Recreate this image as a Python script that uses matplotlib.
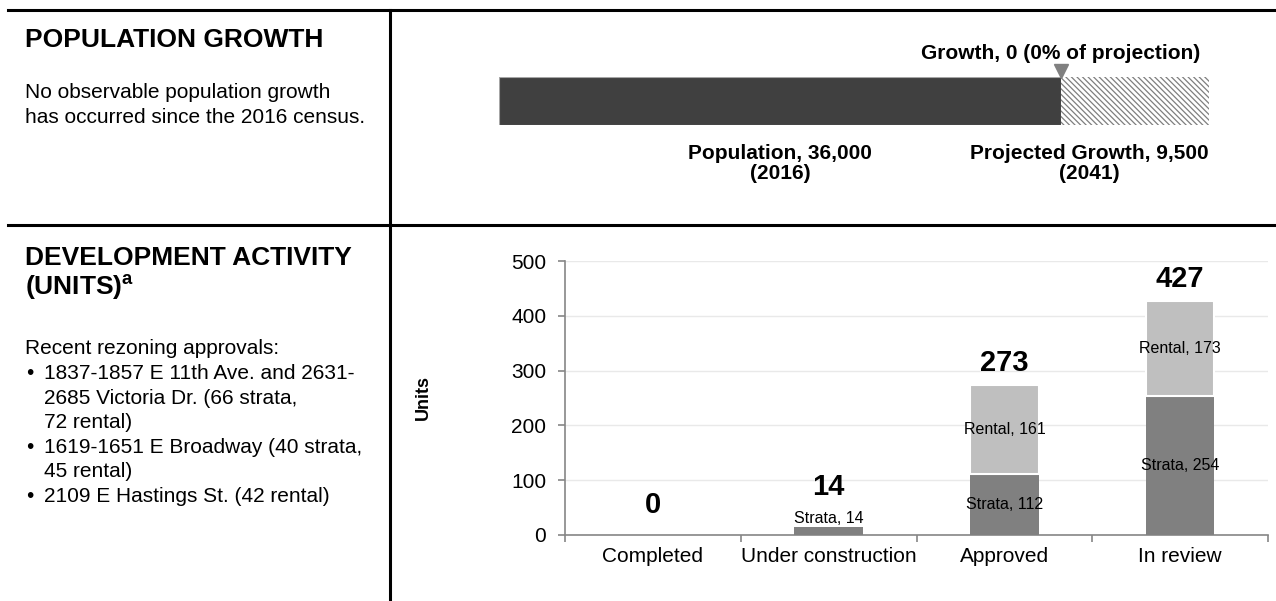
import numpy as np
import matplotlib
matplotlib.use('Agg')
import matplotlib.pyplot as plt
from matplotlib.lines import Line2D

plt.rcParams['font.family'] = ['Liberation Sans', 'DejaVu Sans']
plt.rcParams['mathtext.fontset'] = 'custom'
plt.rcParams['mathtext.rm'] = 'Liberation Sans'
plt.rcParams['mathtext.bf'] = 'Liberation Sans:bold'
plt.rcParams['hatch.linewidth'] = 0.9

# population figures
population_2016 = 36000
growth_since = 0
growth_pct = 0
projected_growth = 9500

# development activity (units)
stages = ['Completed', 'Under construction', 'Approved', 'In review']
strata = [0, 14, 112, 254]
rental = [0, 0, 161, 173]
yticks = [0, 100, 200, 300, 400, 500]

rezonings = [
    '1837-1857 E 11th Ave. and 2631-\n2685 Victoria Dr. (66 strata,\n72 rental)',
    '1619-1651 E Broadway (40 strata,\n45 rental)',
    '2109 E Hastings St. (42 rental)',
]

W, H = 1276, 601
fig = plt.figure(figsize=(W / 100, H / 100), dpi=100)


def fx(px):
    return px / W


def fy(py):
    return 1 - py / H


# table rules
for yy in (10, 225):
    fig.add_artist(Line2D([fx(8), 1], [fy(yy), fy(yy)], color='black', lw=2.2))
fig.add_artist(Line2D([fx(390), fx(390)], [fy(10), 0], color='black', lw=2.2))

# left column text
fig.text(fx(25), fy(40), 'POPULATION GROWTH', fontsize=19, fontweight='bold', va='center')
fig.text(fx(25), fy(105), 'No observable population growth\nhas occurred since the 2016 census.',
         fontsize=15, va='center', linespacing=1.4)
fig.text(fx(25), fy(274), 'DEVELOPMENT ACTIVITY\n(UNITS)$^{\\mathbf{a}}$', fontsize=19,
         fontweight='bold', va='center', linespacing=1.1)
fig.text(fx(25), fy(348), 'Recent rezoning approvals:', fontsize=15, va='center')

bullets = ''
items = ''
for r in rezonings:
    n = r.count('\n')
    bullets += '\u2022' + '\n' * (n + 1)
    items += r + '\n'
fig.text(fx(26), fy(364), bullets.rstrip('\n'), fontsize=15, va='top', linespacing=1.37)
fig.text(fx(44), fy(364), items.rstrip('\n'), fontsize=15, va='top', linespacing=1.37)

# population bar
ax_pop = fig.add_axes([fx(499), fy(125), fx(1209) - fx(499), (125 - 77) / H])
ax_pop.barh(0.5, population_2016, height=1, left=0, color='#404040',
            edgecolor='#a6a6a6', lw=0.8)
ax_pop.barh(0.5, projected_growth, height=1, left=population_2016, color='white',
            edgecolor='#7f7f7f', hatch='\\' * 6, lw=0)
ax_pop.set_xlim(0, population_2016 + projected_growth)
ax_pop.set_ylim(0, 1)
ax_pop.axis('off')
ax_pop.plot(population_2016 + growth_since, 1.13, marker='v', color='#808080', ms=10,
            clip_on=False)
ax_pop.text(population_2016 + growth_since, 1.48,
            f'Growth, {growth_since:,} ({growth_pct}% of projection)',
            ha='center', va='center', fontsize=15, fontweight='bold')
ax_pop.text(population_2016 / 2, -0.8, f'Population, {population_2016:,}\n(2016)',
            ha='center', va='center', fontsize=15, fontweight='bold', linespacing=1.1)
ax_pop.text(population_2016 + projected_growth, -0.8,
            f'Projected Growth, {projected_growth:,}\n(2041)', ha='right',
            multialignment='center', va='center', fontsize=15, fontweight='bold',
            linespacing=1.1)

# development activity stacked bars
ax = fig.add_axes([fx(565), fy(535), fx(1268) - fx(565), (535 - 261) / H])
x = np.arange(len(stages))
bw = 0.39
s = np.array(strata)
r = np.array(rental)
ns = s > 0
nr = r > 0
ax.bar(x[ns], s[ns], width=bw, color='#808080', lw=0, zorder=3)
ax.bar(x[nr], r[nr], width=bw, bottom=s[nr], color='#bfbfbf', edgecolor='white', lw=1.5,
       zorder=3)

for i in range(len(stages)):
    total = strata[i] + rental[i]
    above = False
    if strata[i] > 0:
        if strata[i] > 40:
            ax.text(x[i], strata[i] / 2, f'Strata, {strata[i]}', ha='center', va='center',
                    fontsize=11.5, zorder=4)
        else:
            ax.text(x[i], strata[i] + 17, f'Strata, {strata[i]}', ha='center', va='center',
                    fontsize=11.5, zorder=4)
            above = True
    if rental[i] > 0:
        ax.text(x[i], strata[i] + rental[i] / 2, f'Rental, {rental[i]}', ha='center',
                va='center', fontsize=11.5, zorder=4)
    if total == 0:
        ty = 55
    elif above:
        ty = total + 74
    else:
        ty = total + 40
    ax.text(x[i], ty, f'{total}', ha='center', va='center', fontsize=21,
            fontweight='bold', zorder=4)

ax.set_xlim(-0.5, len(stages) - 0.5)
ax.set_ylim(yticks[0], yticks[-1])
ax.set_yticks(yticks)
ax.set_xticks(np.arange(-0.5, len(stages), 1))
ax.set_xticklabels([])
ax.set_xticks(x, minor=True)
ax.set_xticklabels(stages, minor=True)
ax.tick_params(axis='x', which='major', length=5, width=1.2, color='#868686', direction='out')
ax.tick_params(axis='x', which='minor', length=0, pad=9, labelsize=15)
ax.tick_params(axis='y', length=5, width=1.2, color='#868686', pad=8.5, labelsize=15)
ax.yaxis.grid(True, color='#e9e9e9', lw=1, zorder=0)
ax.set_axisbelow(True)
for side in ('top', 'right'):
    ax.spines[side].set_visible(False)
for side in ('left', 'bottom'):
    ax.spines[side].set_color('#868686')
    ax.spines[side].set_linewidth(1.2)
ax.set_ylabel('Units', fontsize=13, fontweight='bold')
ax.yaxis.set_label_coords(-0.19, 0.5)

fig.savefig('out.png', dpi=100)
